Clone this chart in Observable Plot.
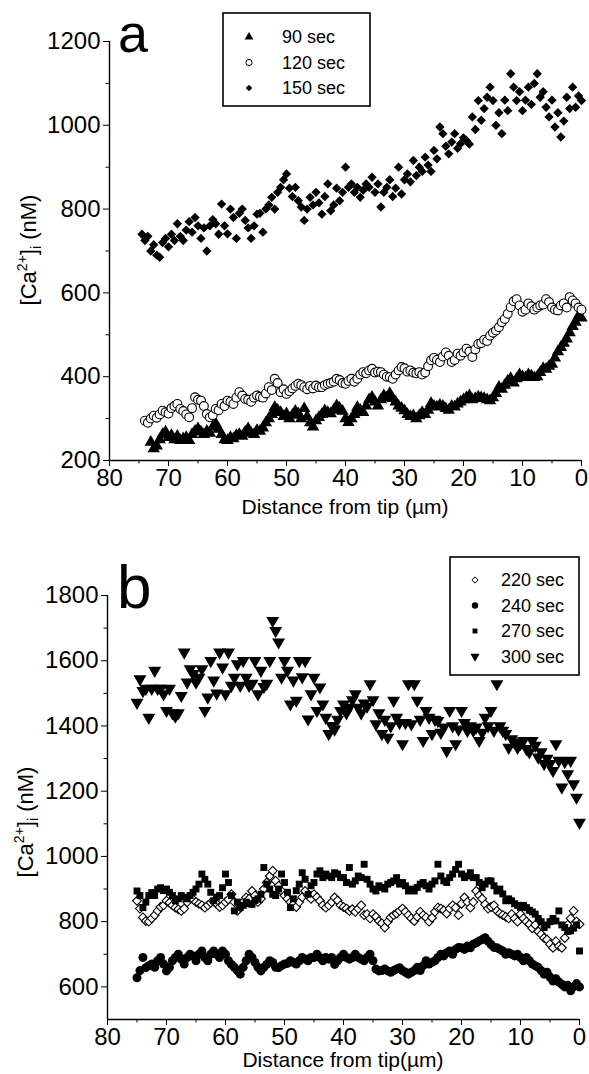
<!DOCTYPE html>
<html>
<head>
<meta charset="utf-8">
<script src="https://cdn.jsdelivr.net/npm/d3@7"></script>
<script src="https://cdn.jsdelivr.net/npm/@observablehq/plot@0.6"></script>
<style>
  html, body { margin: 0; padding: 0; background: #fff; }
  svg { display: block; }
</style>
</head>
<body>
<div id="chart"></div>
<script>
// ---------------- DATA ----------------
const xTicks = [0, 10, 20, 30, 40, 50, 60, 70, 80];
const xMinorTicks = [5, 15, 25, 35, 45, 55, 65, 75];
const yTicksA = [200, 400, 600, 800, 1000, 1200];
const yMinorA = [300, 500, 700, 900, 1100];
const yTicksB = [600, 800, 1000, 1200, 1400, 1600, 1800];
const yMinorB = [700, 900, 1100, 1300, 1500, 1700];

const legendA = ["90 sec", "120 sec", "150 sec"];
const legendB = ["220 sec", "240 sec", "270 sec", "300 sec"];

// Panel a: distance from tip (µm) sampled every 0.5 µm, [Ca2+]i (nM)
const dist90 = d3.range(73, -0.25, -0.5);
const ca90 = [
  244, 228, 235, 250, 262, 268, 255, 260, 250, 258,
  248, 252, 255, 248, 262, 270, 276, 268, 262, 270,
  265, 280, 288, 275, 262, 250, 248, 255, 252, 260,
  262, 258, 268, 276, 265, 262, 272, 270, 278, 290,
  300, 310, 327, 320, 315, 305, 312, 300, 308, 318,
  312, 300, 324, 305, 290, 280, 295, 303, 310, 319,
  315, 312, 320, 331, 325, 318, 300, 291, 300, 310,
  327, 320, 315, 330, 345, 351, 340, 330, 345, 355,
  350, 360, 348, 340, 330, 325, 319, 310, 305, 307,
  300, 307, 315, 310, 320, 336, 330, 328, 332, 330,
  324, 320, 330, 328, 335, 340, 345, 350, 355, 345,
  348, 352, 350, 348, 345, 343, 350, 360, 375, 370,
  380, 390, 396, 385, 395, 405, 400, 398, 405, 402,
  398, 400, 410, 420, 418, 425, 430, 445, 460, 470,
  480, 490, 505, 520, 530, 545, 540
];

const dist120 = d3.range(74, -0.25, -0.5);
const ca120 = [
  295, 290, 300, 307, 302, 310, 319, 315, 312, 325,
  330, 335, 323, 318, 310, 303, 325, 351, 345, 343,
  330, 311, 303, 308, 323, 320, 335, 330, 343, 340,
  335, 350, 363, 355, 347, 345, 340, 350, 355, 352,
  350, 360, 375, 368, 395, 385, 363, 370, 359, 365,
  372, 378, 383, 380, 375, 370, 378, 372, 379, 375,
  375, 380, 383, 385, 388, 395, 392, 385, 383, 390,
  395, 388, 395, 405, 411, 408, 415, 419, 410, 412,
  411, 405, 400, 399, 395, 405, 415, 423, 420, 412,
  415, 410, 408, 411, 405, 410, 425, 439, 445, 440,
  435, 448, 458, 450, 435, 440, 455, 450, 458, 467,
  460, 447, 465, 478, 480, 488, 485, 498, 505, 510,
  518, 530, 538, 550, 566, 580, 585, 570, 555, 560,
  575, 568, 560, 565, 570, 572, 585, 578, 565, 560,
  558, 570, 575, 565, 590, 582, 575, 565, 560
];

const dist150 = d3.range(74.5, -0.25, -0.5);
const ca150 = [
  740, 725, 735, 700, 715, 690, 685, 720, 730, 710,
  740, 725, 765, 735, 725, 750, 770, 745, 780, 760,
  730, 755, 700, 760, 775, 765, 740, 812, 760, 741,
  800, 780, 730, 790, 800, 773, 755, 730, 760, 788,
  790, 745, 800, 810, 828, 800, 840, 852, 870, 884,
  850, 830, 852, 820, 805, 773, 800, 828, 810, 840,
  815, 788, 830, 860, 796, 810, 850, 820, 840, 900,
  852, 860, 840, 852, 828, 845, 860, 852, 876, 840,
  860, 805, 840, 852, 870, 830, 850, 900, 836, 870,
  884, 865, 916, 880, 900, 890, 924, 905, 890, 940,
  920, 996, 980, 950, 932, 960, 980, 945, 956, 970,
  964, 955, 1020, 990, 1059, 1012, 1040, 1067, 1091, 1059,
  1000, 1030, 980, 1060, 1035, 1123, 1091, 1059, 1080, 1035,
  1060, 1091, 1050, 1100, 1123, 1067, 1080, 1043, 1020, 1060,
  996, 1030, 972, 1010, 1067, 1040, 1091, 1043, 1070, 1059
];

// Panel b
const distB = d3.range(75, -0.25, -0.5);
const ca220 = [
  864, 840, 813, 802, 800, 810, 820, 833, 845, 850,
  864, 858, 850, 843, 838, 833, 840, 860, 874, 868,
  860, 855, 850, 843, 850, 858, 862, 855, 845, 850,
  860, 868, 884, 860, 833, 845, 860, 874, 870, 894,
  880, 860, 870, 900, 920, 940, 956, 925, 910, 894,
  880, 870, 860, 853, 845, 860, 875, 894, 880, 870,
  884, 875, 864, 850, 843, 850, 860, 874, 865, 850,
  845, 840, 833, 838, 830, 840, 850, 820, 823, 810,
  823, 815, 802, 795, 782, 800, 813, 820, 825, 833,
  840, 830, 820, 810, 802, 815, 830, 820, 813, 800,
  812, 830, 843, 840, 835, 825, 840, 850, 843, 820,
  855, 874, 860, 843, 860, 894, 880, 870, 853, 840,
  845, 850, 833, 825, 820, 815, 810, 823, 810, 800,
  823, 810, 800, 792, 780, 790, 770, 761, 750, 745,
  731, 720, 740, 725, 720, 750, 790, 810, 833, 800,
  792
];
const ca240 = [
  628, 650, 690, 659, 665, 670, 660, 680, 690, 670,
  649, 660, 680, 690, 700, 685, 670, 690, 700, 695,
  680, 700, 710, 690, 680, 700, 710, 700, 690, 710,
  700, 680, 669, 660, 650, 639, 660, 680, 700, 690,
  675, 660, 649, 660, 669, 680, 675, 660, 659, 665,
  670, 672, 680, 675, 670, 680, 690, 685, 680, 690,
  690, 700, 690, 680, 690, 685, 690, 669, 680, 690,
  700, 690, 685, 690, 700, 690, 685, 680, 690, 700,
  680, 655, 649, 650, 655, 649, 645, 650, 655, 659,
  650, 645, 639, 645, 650, 660, 650, 665, 680, 670,
  675, 680, 690, 700, 695, 705, 710, 700, 715, 721,
  720, 715, 725, 720, 731, 735, 741, 745, 751, 740,
  730, 721, 720, 715, 710, 700, 705, 700, 695, 700,
  690, 680, 690, 680, 670, 665, 660, 650, 639, 645,
  630, 618, 625, 615, 608, 600, 605, 588, 600, 610,
  600
];
const ca270 = [
  894, 880, 843, 860, 880, 889, 880, 900, 904, 895,
  900, 890, 880, 864, 870, 880, 875, 870, 880, 890,
  900, 915, 946, 930, 915, 890, 864, 875, 880, 904,
  946, 920, 880, 833, 860, 843, 850, 860, 855, 853,
  865, 870, 884, 966, 915, 900, 884, 880, 900, 946,
  920, 890, 843, 870, 895, 915, 950, 930, 884, 910,
  920, 946, 956, 935, 946, 940, 935, 950, 946, 935,
  935, 920, 966, 915, 925, 940, 935, 976, 930, 915,
  900, 894, 910, 905, 900, 915, 920, 925, 935, 915,
  920, 910, 894, 900, 894, 905, 915, 920, 910, 900,
  915, 925, 976, 940, 925, 920, 935, 946, 960, 976,
  946, 935, 940, 950, 935, 935, 920, 904, 915, 925,
  925, 910, 894, 900, 885, 864, 870, 864, 855, 850,
  843, 850, 843, 835, 830, 823, 810, 800, 782, 790,
  800, 810, 802, 833, 790, 782, 770, 772, 780, 790,
  710
];
const ca300 = [
  1472, 1544, 1508, 1515, 1426, 1515, 1570, 1515, 1515, 1498,
  1447, 1515, 1440, 1430, 1440, 1493, 1626, 1534, 1575, 1560,
  1534, 1549, 1575, 1447, 1488, 1600, 1540, 1500, 1626, 1580,
  1498, 1626, 1524, 1549, 1590, 1524, 1600, 1549, 1524, 1530,
  1600, 1498, 1570, 1520, 1530, 1600, 1723, 1692, 1657, 1549,
  1600, 1570, 1467, 1540, 1478, 1600, 1550, 1600, 1421, 1498,
  1549, 1447, 1519, 1467, 1426, 1376, 1401, 1390, 1420, 1447,
  1467, 1440, 1457, 1480, 1498, 1457, 1440, 1470, 1460, 1529,
  1480, 1406, 1440, 1376, 1420, 1365, 1400, 1478, 1426, 1410,
  1345, 1410, 1529, 1406, 1529, 1478, 1420, 1355, 1447, 1426,
  1376, 1420, 1416, 1380, 1396, 1324, 1447, 1400, 1345, 1390,
  1447, 1410, 1386, 1400, 1386, 1396, 1355, 1380, 1426, 1400,
  1447, 1386, 1529, 1400, 1386, 1376, 1334, 1360, 1350, 1334,
  1345, 1355, 1330, 1320, 1355, 1340, 1304, 1320, 1284, 1300,
  1284, 1263, 1345, 1294, 1212, 1290, 1253, 1294, 1222, 1181,
  1104
];

// ---------------- HELPERS ----------------
const FONT = "'Liberation Sans', Arial, Helvetica, sans-serif";
const TICK_FONT = 24;
const toRows = (xs, ys) => xs.map((d, i) => ({d, v: ys[i]}));

const sqrt3 = Math.sqrt(3);
const symbolTriangleDown = {
  draw(context, size) {
    const y = -Math.sqrt(size / (sqrt3 * 3));
    context.moveTo(0, -y * 2);
    context.lineTo(-sqrt3 * y, y);
    context.lineTo(sqrt3 * y, y);
    context.closePath();
  }
};
const symbolMap = {
  triangle: d3.symbolTriangle,
  circle: d3.symbolCircle,
  diamond2: d3.symbolDiamond2,
  square: d3.symbolSquare,
  triangleDown: symbolTriangleDown
};

function axes(yMajor, yMinor, yBase) {
  return [
    Plot.axisX(xTicks, {tickSize: 6, tickPadding: 2, label: null, fontSize: TICK_FONT, tickFormat: "d"}),
    Plot.axisX(xMinorTicks, {tickSize: 3.5, tickFormat: () => "", label: null}),
    Plot.axisY(yMajor, {tickSize: 6, tickPadding: 3, label: null, fontSize: TICK_FONT, tickFormat: "d"}),
    Plot.axisY(yMinor, {tickSize: 3.5, tickFormat: () => "", label: null}),
    Plot.ruleX([80], {strokeWidth: 1.4}),
    Plot.ruleY([yBase], {strokeWidth: 1.4})
  ];
}

function dots(data, spec) {
  return Plot.dot(data, {
    x: "d", y: "v",
    symbol: symbolMap[spec.symbol],
    r: spec.r,
    fill: spec.fill,
    stroke: spec.stroke,
    strokeWidth: spec.strokeWidth || 1
  });
}

function legend(svg, box, rows, fontSize) {
  const g = d3.select(svg).append("g");
  g.append("rect").attr("x", box.x).attr("y", box.y).attr("width", box.w).attr("height", box.h)
    .attr("fill", "white").attr("stroke", "black").attr("stroke-width", 1.6);
  rows.forEach((r, i) => {
    const cy = box.row0 + i * box.step;
    const area = Math.PI * r.spec.r * r.spec.r * 0.5;
    g.append("path")
      .attr("transform", `translate(${box.mx},${cy})`)
      .attr("d", d3.symbol(symbolMap[r.spec.symbol], area)())
      .attr("fill", r.spec.fill).attr("stroke", r.spec.stroke || "none").attr("stroke-width", 1);
    g.append("text").attr("x", box.tx).attr("y", cy).attr("dy", "0.36em")
      .attr("text-anchor", "start")
      .attr("font-size", fontSize).attr("font-family", FONT).attr("fill", "black").text(r.label);
  });
}

function yTitle(svg, cx, cy) {
  const t = d3.select(svg).append("text")
    .attr("transform", `translate(${cx},${cy}) rotate(-90)`)
    .attr("text-anchor", "middle")
    .attr("font-family", FONT).attr("font-size", 22).attr("fill", "black");
  t.append("tspan").text("[Ca");
  t.append("tspan").attr("font-size", 14).attr("dy", -9).text("2+");
  t.append("tspan").attr("dy", 9).text("]");
  t.append("tspan").attr("font-size", 14).attr("dy", 5).text("i");
  t.append("tspan").attr("dy", -5).text(" (nM)");
}

function textAt(svg, x, y, str, size, anchor) {
  d3.select(svg).append("text").attr("x", x).attr("y", y)
    .attr("text-anchor", anchor || "middle").attr("font-family", FONT)
    .attr("font-size", size).attr("fill", "black").text(str);
}

// ---------------- PANEL A ----------------
const specA = [
  {symbol: "triangle", r: 4.6, fill: "black"},
  {symbol: "circle", r: 4.4, fill: "white", stroke: "black", strokeWidth: 1.1},
  {symbol: "diamond2", r: 4.2, fill: "black"}
];
const plotA = Plot.plot({
  width: 589, height: 530,
  marginLeft: 109, marginRight: 8, marginTop: 41, marginBottom: 70,
  x: {domain: [80, 0]},
  y: {domain: [200, 1200]},
  style: {fontFamily: FONT, fontSize: "20px", color: "black", background: "white", overflow: "visible"},
  marks: [
    ...axes(yTicksA, yMinorA, 200),
    dots(toRows(dist90, ca90), specA[0]),
    dots(toRows(dist120, ca120), specA[1]),
    dots(toRows(dist150, ca150), specA[2])
  ]
});
legend(plotA, {x: 223, y: 13, w: 147, h: 93, row0: 37, step: 25.5, mx: 249, tx: 282},
  legendA.map((label, i) => ({label, spec: specA[i]})), 18);
textAt(plotA, 345, 514, "Distance from tip (\u00b5m)", 21);
textAt(plotA, 118, 52, "a", 54, "start");
yTitle(plotA, 36, 250);
document.getElementById("chart").appendChild(plotA);

// ---------------- PANEL B ----------------
const specB = [
  {symbol: "diamond2", r: 4.0, fill: "white", stroke: "black", strokeWidth: 1.1},
  {symbol: "circle", r: 4.5, fill: "black"},
  {symbol: "square", r: 3.9, fill: "black"},
  {symbol: "triangleDown", r: 4.8, fill: "black"}
];
const plotB = Plot.plot({
  width: 589, height: 544,
  marginLeft: 107, marginRight: 10, marginTop: 65, marginBottom: 55,
  x: {domain: [80, 0]},
  y: {domain: [500, 1800]},
  style: {fontFamily: FONT, fontSize: "20px", color: "black", background: "white", overflow: "visible"},
  marks: [
    ...axes(yTicksB, yMinorB, 500),
    dots(toRows(distB, ca220), specB[0]),
    dots(toRows(distB, ca240), specB[1]),
    dots(toRows(distB, ca270), specB[2]),
    dots(toRows(distB, ca300), specB[3])
  ]
});
legend(plotB, {x: 450, y: 27, w: 129, h: 118, row0: 50, step: 25.5, mx: 475, tx: 501},
  legendB.map((label, i) => ({label, spec: specB[i]})), 18);
textAt(plotB, 343, 537, "Distance from tip(\u00b5m)", 21);
textAt(plotB, 117, 78, "b", 62, "start");
yTitle(plotB, 33, 292);
document.getElementById("chart").appendChild(plotB);
</script>
</body>
</html>
